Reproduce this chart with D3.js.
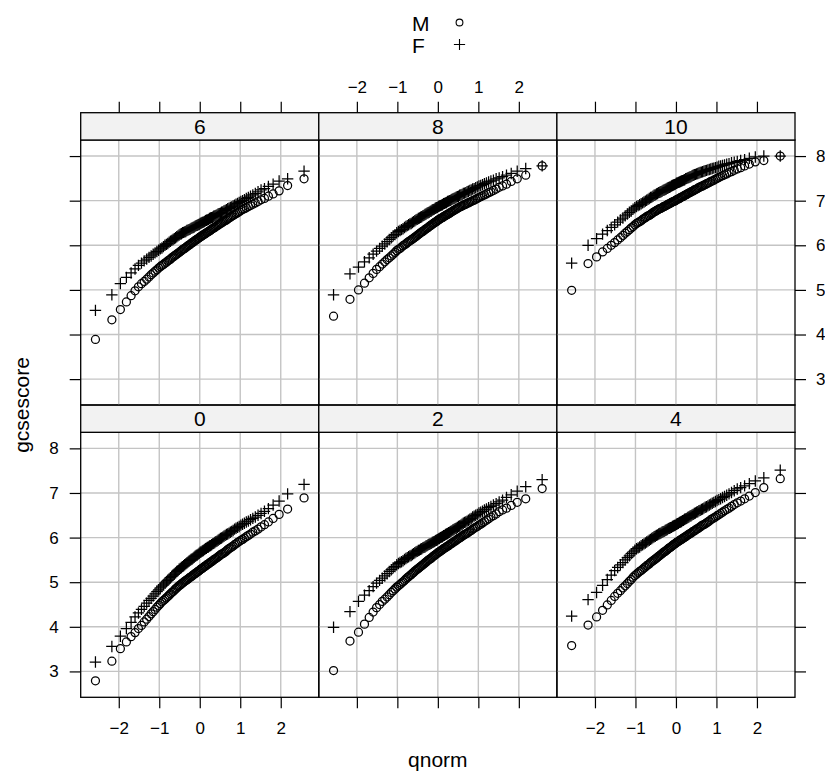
<!DOCTYPE html>
<html>
<head>
<meta charset="utf-8">
<script src="https://cdn.jsdelivr.net/npm/d3@7"></script>
<style>
  body { margin: 0; background: #fff; }
  svg { display: block; font-family: "Liberation Sans", Arial, Helvetica, sans-serif; }
</style>
</head>
<body>
<svg id="chart" width="825" height="774"></svg>
<script>
///// *** DATA *** /////
// panels in lattice order: bottom row first (0, 2, 4), then top row (6, 8, 10)
var scores = ['0', '2', '4', '6', '8', '10'],
    genders = ['M', 'F'],
    xTicks = [-2, -1, 0, 1, 2],
    yTicks = [3, 4, 5, 6, 7, 8],
    xTitle = 'qnorm',
    yTitle = 'gcsescore';

// sorted gcsescore quantiles, 100 per group
var score0M = [2.79,3.23,3.51,3.66,3.78,3.87,3.96,4.03,4.11,4.17,4.23,4.29,4.34,4.39,4.44,4.48,
  4.52,4.56,4.59,4.62,4.65,4.68,4.71,4.74,4.77,4.79,4.82,4.85,4.87,4.90,4.92,
  4.94,4.96,4.98,5.00,5.02,5.04,5.05,5.07,5.09,5.11,5.12,5.14,5.16,5.18,5.19,5.21,5.23,5.24,5.26,
  5.28,5.30,5.31,5.33,5.35,5.36,5.38,5.40,5.41,5.43,5.45,5.46,5.48,5.50,5.52,5.53,5.55,5.57,5.59,
  5.61,5.63,5.64,5.66,5.68,5.70,5.73,5.75,5.77,5.79,5.81,5.84,5.86,5.89,5.91,
  5.94,5.96,5.99,6.02,6.05,6.08,6.12,6.15,6.19,6.24,6.29,6.35,6.43,6.52,6.64,6.89];
var score0F = [3.21,3.56,3.79,3.96,4.10,4.22,4.31,4.39,4.46,4.53,4.59,4.64,4.69,4.74,4.79,4.83,
  4.87,4.91,4.94,4.98,5.01,5.04,5.07,5.10,5.13,5.16,5.18,5.21,5.24,5.26,5.29,
  5.31,5.33,5.35,5.37,5.39,5.41,5.43,5.45,5.47,5.49,5.51,5.52,5.54,5.56,5.58,5.60,5.61,5.63,5.65,
  5.67,5.68,5.70,5.71,5.73,5.75,5.76,5.78,5.79,5.81,5.82,5.84,5.86,5.87,5.89,5.91,5.92,5.94,5.96,
  5.98,5.99,6.01,6.03,6.05,6.07,6.08,6.10,6.12,6.14,6.16,6.19,6.21,6.23,6.25,
  6.28,6.30,6.32,6.35,6.37,6.40,6.43,6.46,6.50,6.54,6.59,6.65,6.73,6.82,6.98,7.19];
var score2M = [3.02,3.68,3.88,4.06,4.21,4.33,4.43,4.50,4.57,4.62,4.67,4.72,4.77,4.81,4.85,4.89,
  4.92,4.95,4.98,5.01,5.04,5.07,5.10,5.12,5.15,5.17,5.20,5.22,5.25,5.27,5.29,
  5.31,5.33,5.35,5.37,5.39,5.41,5.43,5.45,5.47,5.49,5.51,5.52,5.54,5.56,5.58,5.60,5.61,5.63,5.65,
  5.67,5.68,5.70,5.71,5.73,5.75,5.76,5.78,5.79,5.81,5.82,5.84,5.86,5.87,5.89,5.91,5.92,5.94,5.96,
  5.98,5.99,6.01,6.03,6.05,6.07,6.08,6.10,6.12,6.14,6.16,6.19,6.21,6.23,6.25,
  6.28,6.30,6.33,6.36,6.39,6.42,6.46,6.49,6.53,6.58,6.62,6.66,6.72,6.79,6.87,7.10];
var score2F = [3.99,4.34,4.57,4.71,4.81,4.90,4.98,5.04,5.09,5.14,5.19,5.24,5.28,5.32,5.35,5.39,
  5.42,5.44,5.46,5.48,5.51,5.53,5.55,5.57,5.59,5.60,5.62,5.64,5.66,5.68,5.69,
  5.71,5.72,5.74,5.75,5.77,5.78,5.79,5.81,5.82,5.84,5.85,5.86,5.87,5.89,5.90,5.91,5.93,5.94,5.95,
  5.97,5.98,6.00,6.01,6.02,6.04,6.05,6.07,6.08,6.09,6.11,6.12,6.14,6.15,6.17,6.18,6.20,6.21,6.23,
  6.25,6.26,6.28,6.30,6.32,6.34,6.35,6.37,6.39,6.41,6.43,6.46,6.48,6.50,6.52,
  6.55,6.57,6.59,6.62,6.64,6.67,6.70,6.73,6.76,6.80,6.84,6.90,6.96,7.04,7.14,7.30];
var score4M = [3.58,4.04,4.22,4.37,4.49,4.59,4.68,4.75,4.81,4.87,4.92,4.97,5.02,5.06,5.11,5.15,
  5.18,5.21,5.24,5.26,5.29,5.32,5.34,5.37,5.39,5.41,5.44,5.46,5.48,5.50,5.52,
  5.54,5.56,5.58,5.60,5.62,5.64,5.66,5.68,5.69,5.71,5.73,5.75,5.77,5.78,5.80,5.82,5.84,5.85,5.87,
  5.89,5.90,5.92,5.93,5.95,5.96,5.98,5.99,6.01,6.02,6.04,6.06,6.07,6.09,6.10,6.12,6.14,6.15,6.17,
  6.19,6.20,6.22,6.24,6.26,6.28,6.29,6.31,6.33,6.35,6.37,6.40,6.42,6.44,6.46,
  6.49,6.51,6.54,6.57,6.60,6.63,6.66,6.70,6.74,6.78,6.82,6.87,6.93,7.01,7.12,7.32];
var score4F = [4.24,4.61,4.77,4.93,5.06,5.16,5.26,5.33,5.39,5.44,5.50,5.55,5.59,5.64,5.68,5.72,
  5.75,5.77,5.79,5.82,5.84,5.86,5.88,5.90,5.92,5.94,5.96,5.98,6.00,6.02,6.03,
  6.05,6.06,6.08,6.09,6.10,6.12,6.13,6.14,6.16,6.17,6.18,6.20,6.21,6.22,6.23,6.25,6.26,6.27,6.28,
  6.30,6.31,6.32,6.34,6.35,6.36,6.38,6.39,6.41,6.42,6.43,6.45,6.46,6.48,6.49,6.51,6.52,6.54,6.55,
  6.57,6.58,6.60,6.61,6.63,6.64,6.66,6.68,6.69,6.71,6.73,6.75,6.77,6.79,6.81,
  6.83,6.85,6.87,6.90,6.92,6.95,6.98,7.01,7.05,7.09,7.12,7.16,7.21,7.27,7.34,7.51];
var score6M = [3.89,4.33,4.56,4.73,4.87,4.98,5.07,5.14,5.19,5.24,5.29,5.34,5.38,5.42,5.45,5.49,
  5.52,5.55,5.57,5.60,5.62,5.65,5.67,5.69,5.72,5.74,5.76,5.78,5.80,5.82,5.84,
  5.86,5.88,5.90,5.92,5.93,5.95,5.97,5.99,6.00,6.02,6.04,6.06,6.07,6.09,6.11,6.12,6.14,6.15,6.17,
  6.19,6.20,6.22,6.23,6.25,6.26,6.28,6.29,6.31,6.32,6.34,6.36,6.37,6.39,6.40,6.42,6.44,6.45,6.47,
  6.49,6.50,6.52,6.54,6.55,6.57,6.59,6.61,6.63,6.65,6.67,6.69,6.71,6.73,6.75,
  6.78,6.80,6.82,6.84,6.87,6.89,6.92,6.95,6.98,7.02,7.05,7.10,7.15,7.22,7.34,7.49];
var score6F = [4.54,4.89,5.14,5.28,5.38,5.47,5.55,5.60,5.65,5.69,5.73,5.76,5.80,5.83,5.86,5.89,
  5.92,5.94,5.97,6.00,6.02,6.04,6.07,6.09,6.11,6.13,6.15,6.17,6.19,6.21,6.23,
  6.25,6.26,6.28,6.29,6.30,6.31,6.33,6.34,6.35,6.36,6.38,6.39,6.40,6.41,6.43,6.44,6.45,6.46,6.47,
  6.49,6.50,6.51,6.52,6.53,6.55,6.56,6.57,6.58,6.60,6.61,6.62,6.63,6.65,6.66,6.67,6.68,6.70,6.71,
  6.72,6.74,6.75,6.77,6.78,6.80,6.82,6.83,6.85,6.86,6.88,6.90,6.92,6.94,6.96,
  6.98,7.00,7.02,7.05,7.07,7.10,7.13,7.16,7.20,7.24,7.27,7.32,7.37,7.44,7.49,7.66];
var score8M = [4.41,4.79,5.00,5.15,5.27,5.37,5.46,5.52,5.58,5.63,5.68,5.72,5.76,5.80,5.84,5.88,
  5.91,5.93,5.96,5.99,6.01,6.03,6.06,6.08,6.10,6.12,6.14,6.16,6.18,6.20,6.22,
  6.24,6.26,6.28,6.30,6.31,6.33,6.35,6.37,6.38,6.40,6.42,6.44,6.45,6.47,6.49,6.50,6.52,6.53,6.55,
  6.57,6.58,6.60,6.61,6.62,6.64,6.65,6.67,6.68,6.69,6.71,6.72,6.74,6.75,6.77,6.78,6.80,6.81,6.83,
  6.84,6.86,6.87,6.88,6.90,6.91,6.92,6.94,6.95,6.97,6.98,7.00,7.01,7.03,7.05,
  7.07,7.09,7.11,7.13,7.15,7.18,7.20,7.23,7.26,7.30,7.33,7.37,7.43,7.49,7.57,7.78];
var score8F = [4.89,5.36,5.51,5.63,5.72,5.80,5.87,5.93,5.98,6.03,6.08,6.13,6.17,6.21,6.24,6.28,
  6.31,6.33,6.35,6.37,6.40,6.42,6.44,6.46,6.48,6.49,6.51,6.53,6.55,6.57,6.58,
  6.60,6.61,6.63,6.64,6.66,6.67,6.69,6.70,6.72,6.73,6.74,6.76,6.77,6.79,6.80,6.81,6.83,6.84,6.85,
  6.87,6.88,6.89,6.90,6.91,6.93,6.94,6.95,6.96,6.98,6.99,7.00,7.01,7.03,7.04,7.05,7.06,7.08,7.09,
  7.10,7.12,7.13,7.14,7.16,7.17,7.18,7.20,7.21,7.23,7.24,7.26,7.27,7.29,7.31,
  7.33,7.34,7.36,7.38,7.40,7.42,7.44,7.46,7.49,7.51,7.54,7.57,7.61,7.66,7.72,7.78];
var score10M = [4.99,5.59,5.74,5.85,5.93,6.00,6.06,6.12,6.17,6.22,6.27,6.31,6.35,6.39,6.42,6.46,
  6.49,6.51,6.53,6.55,6.58,6.60,6.62,6.64,6.66,6.67,6.69,6.71,6.73,6.75,6.76,
  6.78,6.79,6.81,6.82,6.83,6.84,6.86,6.87,6.88,6.89,6.91,6.92,6.93,6.94,6.96,6.97,6.98,6.99,7.00,
  7.02,7.03,7.04,7.05,7.07,7.08,7.09,7.10,7.12,7.13,7.14,7.16,7.17,7.18,7.20,7.21,7.22,7.24,7.25,
  7.26,7.28,7.29,7.31,7.32,7.33,7.35,7.36,7.38,7.39,7.41,7.43,7.44,7.46,7.48,
  7.50,7.52,7.54,7.56,7.58,7.60,7.63,7.65,7.68,7.71,7.74,7.78,7.82,7.87,7.90,8.00];
var score10F = [5.60,6.00,6.15,6.25,6.33,6.40,6.46,6.52,6.57,6.61,6.66,6.70,6.74,6.77,6.81,6.84,
  6.87,6.89,6.91,6.93,6.95,6.97,6.99,7.01,7.03,7.05,7.07,7.08,7.10,7.12,7.13,
  7.15,7.16,7.18,7.19,7.20,7.21,7.23,7.24,7.25,7.26,7.28,7.29,7.30,7.31,7.33,7.34,7.35,7.36,7.37,
  7.39,7.40,7.41,7.42,7.43,7.44,7.45,7.46,7.47,7.49,7.50,7.51,7.52,7.53,7.54,7.56,7.57,7.58,7.59,
  7.60,7.61,7.62,7.63,7.64,7.65,7.66,7.67,7.68,7.69,7.70,7.71,7.72,7.73,7.74,
  7.75,7.77,7.78,7.79,7.80,7.82,7.83,7.85,7.86,7.88,7.90,7.92,7.95,7.98,8.00,8.00];

var seriesM = [score0M, score2M, score4M, score6M, score8M, score10M],
    seriesF = [score0F, score2F, score4F, score6F, score8F, score10F];

///// *** LAYOUT *** /////
var svg = d3.select('#chart'),
    left = 80.7,
    right = 795,
    colW = (right - left) / 3,
    stripH = 27.3,
    panelH = 265,
    stripTops = [405, 112.7],   // bottom row, top row
    tickLen = 11,
    font = '"Liberation Sans", Arial, Helvetica, sans-serif';

var x = d3.scaleLinear().domain([-2.94, 2.94]).range([0, colW]),
    y = d3.scaleLinear().domain([2.42, 8.36]).range([panelH, 0]);

///// *** HELPERS *** /////
// inverse normal cdf (Acklam), for the theoretical quantiles of qqmath
function qnorm(p){
  var a = [-39.69683028665376, 220.9460984245205, -275.9285104469687, 138.3577518672690, -30.66479806614716, 2.506628277459239],
      b = [-54.47609879822406, 161.5858368580409, -155.6989798598866, 66.80131188771972, -13.28068155288572],
      c = [-0.007784894002430293, -0.3223964580411365, -2.400758277161838, -2.549671348283390, 4.374664141464968, 2.938163982698783],
      d = [0.007784695709041462, 0.3224671290700398, 2.445134137142996, 3.754408661907416],
      q, r;
  if (p < 0.02425) {
    q = Math.sqrt(-2 * Math.log(p));
    return (((((c[0]*q+c[1])*q+c[2])*q+c[3])*q+c[4])*q+c[5]) / ((((d[0]*q+d[1])*q+d[2])*q+d[3])*q+1);
  }
  if (p > 1 - 0.02425) {
    q = Math.sqrt(-2 * Math.log(1 - p));
    return -(((((c[0]*q+c[1])*q+c[2])*q+c[3])*q+c[4])*q+c[5]) / ((((d[0]*q+d[1])*q+d[2])*q+d[3])*q+1);
  }
  q = p - 0.5;
  r = q * q;
  return (((((a[0]*r+a[1])*r+a[2])*r+a[3])*r+a[4])*r+a[5])*q / (((((b[0]*r+b[1])*r+b[2])*r+b[3])*r+b[4])*r+1);
}

// pair each sorted value with qnorm(ppoints(n))
function qqPairs(values){
  var n = values.length;
  return values.map(function(v, i){ return {q: qnorm((i + 0.5) / n), v: v}; });
}

function styleAxis(g){
  g.select('.domain').remove();
  g.selectAll('.tick line').attr('stroke', '#000').attr('stroke-width', 1.2);
  g.selectAll('.tick text').attr('fill', '#000').style('font-size', '17px').style('font-family', font);
}

///// *** PANELS *** /////
scores.forEach(function(s, k){
  var col = k % 3,
      row = Math.floor(k / 3),
      px = left + col * colW,
      st = stripTops[row],
      py = st + stripH;

  var g = svg.append('g').attr('transform', 'translate(' + px + ',' + py + ')');

  // grid
  g.selectAll('.vgrid').data(xTicks).enter().append('line')
    .attr('x1', function(d){ return x(d); }).attr('x2', function(d){ return x(d); })
    .attr('y1', 0).attr('y2', panelH)
    .attr('stroke', '#c4c4c4').attr('stroke-width', 1.4);
  g.selectAll('.hgrid').data(yTicks).enter().append('line')
    .attr('y1', function(d){ return y(d); }).attr('y2', function(d){ return y(d); })
    .attr('x1', 0).attr('x2', colW)
    .attr('stroke', '#c4c4c4').attr('stroke-width', 1.4);

  // M: open circles
  g.selectAll('circle.m').data(qqPairs(seriesM[k])).enter().append('circle')
    .attr('cx', function(d){ return x(d.q); })
    .attr('cy', function(d){ return y(d.v); })
    .attr('r', 4)
    .attr('fill', 'none').attr('stroke', '#000').attr('stroke-width', 1.25);

  // F: plus signs
  g.selectAll('path.f').data(qqPairs(seriesF[k])).enter().append('path')
    .attr('d', function(d){
      var cx = x(d.q), cy = y(d.v), h = 5.7;
      return 'M' + (cx - h) + ',' + cy + 'H' + (cx + h) + 'M' + cx + ',' + (cy - h) + 'V' + (cy + h);
    })
    .attr('fill', 'none').attr('stroke', '#000').attr('stroke-width', 1.25);

  // panel border
  g.append('rect').attr('width', colW).attr('height', panelH)
    .attr('fill', 'none').attr('stroke', '#000').attr('stroke-width', 1.3);

  // strip
  var sg = svg.append('g').attr('transform', 'translate(' + px + ',' + st + ')');
  sg.append('rect').attr('width', colW).attr('height', stripH)
    .attr('fill', '#f2f2f2').attr('stroke', '#000').attr('stroke-width', 1.3);
  sg.append('text').attr('x', colW / 2).attr('y', stripH / 2).attr('dy', '0.36em')
    .attr('text-anchor', 'middle').style('font-size', '21px').text(s);

  // x axes: top of top row, bottom of bottom row (alternating labels)
  if (row === 1) {
    svg.append('g').attr('transform', 'translate(' + px + ',' + st + ')')
      .call(d3.axisTop(x).tickValues(xTicks).tickSize(tickLen).tickPadding(9)
        .tickFormat(col === 1 ? d3.format('d') : function(){ return ''; }))
      .call(styleAxis);
  } else {
    svg.append('g').attr('transform', 'translate(' + px + ',' + (py + panelH) + ')')
      .call(d3.axisBottom(x).tickValues(xTicks).tickSize(tickLen).tickPadding(14)
        .tickFormat(col !== 1 ? d3.format('d') : function(){ return ''; }))
      .call(styleAxis);
  }

  // y axes on the outer columns
  if (col === 0) {
    svg.append('g').attr('transform', 'translate(' + left + ',' + py + ')')
      .call(d3.axisLeft(y).tickValues(yTicks).tickSize(tickLen).tickPadding(11)
        .tickFormat(row === 0 ? d3.format('d') : function(){ return ''; }))
      .call(styleAxis);
  }
  if (col === 2) {
    svg.append('g').attr('transform', 'translate(' + right + ',' + py + ')')
      .call(d3.axisRight(y).tickValues(yTicks).tickSize(tickLen).tickPadding(10)
        .tickFormat(row === 1 ? d3.format('d') : function(){ return ''; }))
      .call(styleAxis);
  }
});

///// *** TITLES & KEY *** /////
svg.append('text').attr('x', (left + right) / 2).attr('y', 767)
  .attr('text-anchor', 'middle').style('font-size', '21px').text(xTitle);
svg.append('text').attr('transform', 'translate(29,' + ((stripTops[1] + stripTops[0] + stripH + panelH) / 2) + ') rotate(-90)')
  .attr('text-anchor', 'middle').style('font-size', '21px').text(yTitle);

var key = svg.append('g');
genders.forEach(function(gname, i){
  var ky = 23 + i * 22;
  key.append('text').attr('x', 412).attr('y', ky).attr('dy', '0.36em')
    .style('font-size', '21px').text(gname);
  if (gname === 'M') {
    key.append('circle').attr('cx', 459.5).attr('cy', ky - 0.5).attr('r', 3.4)
      .attr('fill', 'none').attr('stroke', '#000').attr('stroke-width', 1.1);
  } else {
    key.append('path').attr('d', 'M' + (459.5 - 5.6) + ',' + (ky - 0.5) + 'H' + (459.5 + 5.6) + 'M459.5,' + (ky - 6.1) + 'V' + (ky + 5.1))
      .attr('fill', 'none').attr('stroke', '#000').attr('stroke-width', 1.1);
  }
});
</script>
</body>
</html>
